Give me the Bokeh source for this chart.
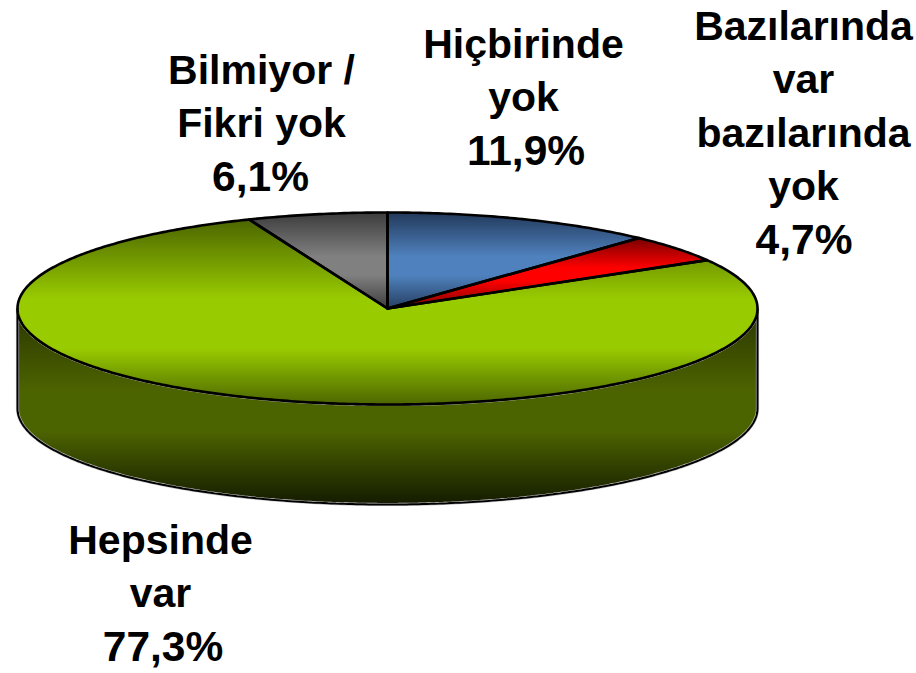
import numpy as np
from bokeh.embed import file_html
from bokeh.models import ColumnDataSource, Range1d
from bokeh.plotting import figure
from bokeh.resources import INLINE
from bokeh.core.properties import value

# Data, clockwise from twelve o'clock
categories = ["Hiçbirinde yok", "Bazılarında var bazılarında yok", "Hepsinde var", "Bilmiyor / Fikri yok"]
shares = [11.9, 4.7, 77.3, 6.1]
share_labels = ["11,9%", "4,7%", "77,3%", "6,1%"]
label_lines = [["Hiçbirinde", "yok"], ["Bazılarında", "var", "bazılarında", "yok"], ["Hepsinde", "var"], ["Bilmiyor /", "Fikri yok"]]

# Picture-pixel geometry
CX, CY, RX, RY, DEPTH = 387.0, 308.0, 370.0, 96.0, 100.0
W, H = 916, 673
label_x = [523, 803, 160, 261]
share_x = [525.5, 803.5, 162.5, 260]
label_y0 = [43, 25.5, 539.5, 69]
LINE_STEP = 53.3
FONT = "41px"
SHARE_FONT = "42.5px"

# Gradient ramps: (fraction of the shape's height, colour)
ramps = [
    [(0, "#233a5c"), (0.45, "#4f81bd"), (0.65, "#4f81bd"), (1, "#263f60")],
    [(0, "#7a0000"), (0.42, "#ff0000"), (0.6, "#ff0000"), (1, "#7a0000")],
    [(0, "#4d6600"), (0.43, "#99cc00"), (0.69, "#99cc00"), (1, "#4d6600")],
    [(0, "#3d3d3d"), (0.45, "#808080"), (0.65, "#808080"), (1, "#3d3d3d")],
]
side_ramp = [(0, "#2b3600"), (0.42, "#4d6400"), (0.62, "#4d6400"), (1, "#141b00")]


def rgb(h):
    return np.array([int(h[i:i + 2], 16) for i in (1, 3, 5)], float)


def ramp_colour(ramp, t):
    fr = [s[0] for s in ramp]
    cs = np.array([rgb(s[1]) for s in ramp])
    c = [np.interp(t, fr, cs[:, k]) for k in range(3)]
    return "#%02x%02x%02x" % tuple(int(round(v)) for v in c)


def clip_below(pts, y0):
    """Keep the part of a polygon whose y is at or past y0 (page y grows downwards)."""
    out = []
    n = len(pts)
    for i in range(n):
        a, b = pts[i], pts[(i + 1) % n]
        ia, ib = a[1] >= y0, b[1] >= y0
        if ia:
            out.append(a)
        if ia != ib:
            t = (y0 - a[1]) / (b[1] - a[1])
            out.append((a[0] + t * (b[0] - a[0]), y0))
    return out


def bands(pts, ramp, xs, ys, cols):
    y = [q[1] for q in pts]
    y0, y1 = min(y), max(y)
    for yy in np.arange(y0, y1, 1.0):
        c = clip_below(pts, yy)
        if len(c) < 3:
            continue
        xs.append([q[0] for q in c])
        ys.append([q[1] for q in c])
        cols.append(ramp_colour(ramp, (yy - y0) / (y1 - y0)))


def arc(a0, a1, dy=0.0):
    n = max(3, int(abs(a1 - a0) * 90))
    t = np.linspace(a0, a1, n)
    return [(CX + RX * np.sin(v), CY + dy - RY * np.cos(v)) for v in t]


p = figure(width=W, height=H, output_backend="svg", toolbar_location=None,
           x_range=Range1d(0, W), y_range=Range1d(H, 0),
           min_border=0, outline_line_color=None)
p.axis.visible = False
p.grid.visible = False
p.background_fill_color = "white"

cum = np.cumsum([0] + shares) / sum(shares) * 2 * np.pi

# Side wall: the lower half of the rim, swept down by the depth
front = arc(np.pi / 2, 3 * np.pi / 2)
wall = front + [(x, y + DEPTH) for x, y in front[::-1]]
xs, ys, cols = [], [], []
bands(wall, side_ramp, xs, ys, cols)
p.patches(xs, ys, fill_color=cols, line_color=None)
wx, wy = zip(*wall)
p.patch(list(wx), list(wy), fill_color=None, line_color="#c4c4c4", line_width=3.2)
p.patch(list(wx), list(wy), fill_color=None, line_color="black", line_width=2)

# Top face
outlines = []
for i in range(len(shares)):
    poly = [(CX, CY)] + arc(cum[i], cum[i + 1])
    xs, ys, cols = [], [], []
    bands(poly, ramps[i], xs, ys, cols)
    p.patches(xs, ys, fill_color=cols, line_color=None)
    outlines.append(poly)
for poly in outlines:
    x, y = zip(*poly)
    p.patch(list(x), list(y), fill_color=None, line_color="black", line_width=2.6, line_join="round")

# Labels, one text per line, the share below the name
tx, ty, tt, sx, sy = [], [], [], [], []
for i, lines in enumerate(label_lines):
    for j, s in enumerate(lines):
        tx.append(label_x[i])
        ty.append(label_y0[i] + j * LINE_STEP)
        tt.append(s)
    sx.append(share_x[i])
    sy.append(label_y0[i] + len(lines) * LINE_STEP)
common = dict(text_align="center", text_baseline="middle", text_font=value("Liberation Sans"),
              text_font_style="bold", text_color="black")
p.text("x", "y", text="text", source=ColumnDataSource(dict(x=tx, y=ty, text=tt)), text_font_size=FONT, **common)
p.text("x", "y", text="text", source=ColumnDataSource(dict(x=sx, y=sy, text=share_labels)), text_font_size=SHARE_FONT, **common)

open("out.html", "w").write(file_html(p, INLINE))
